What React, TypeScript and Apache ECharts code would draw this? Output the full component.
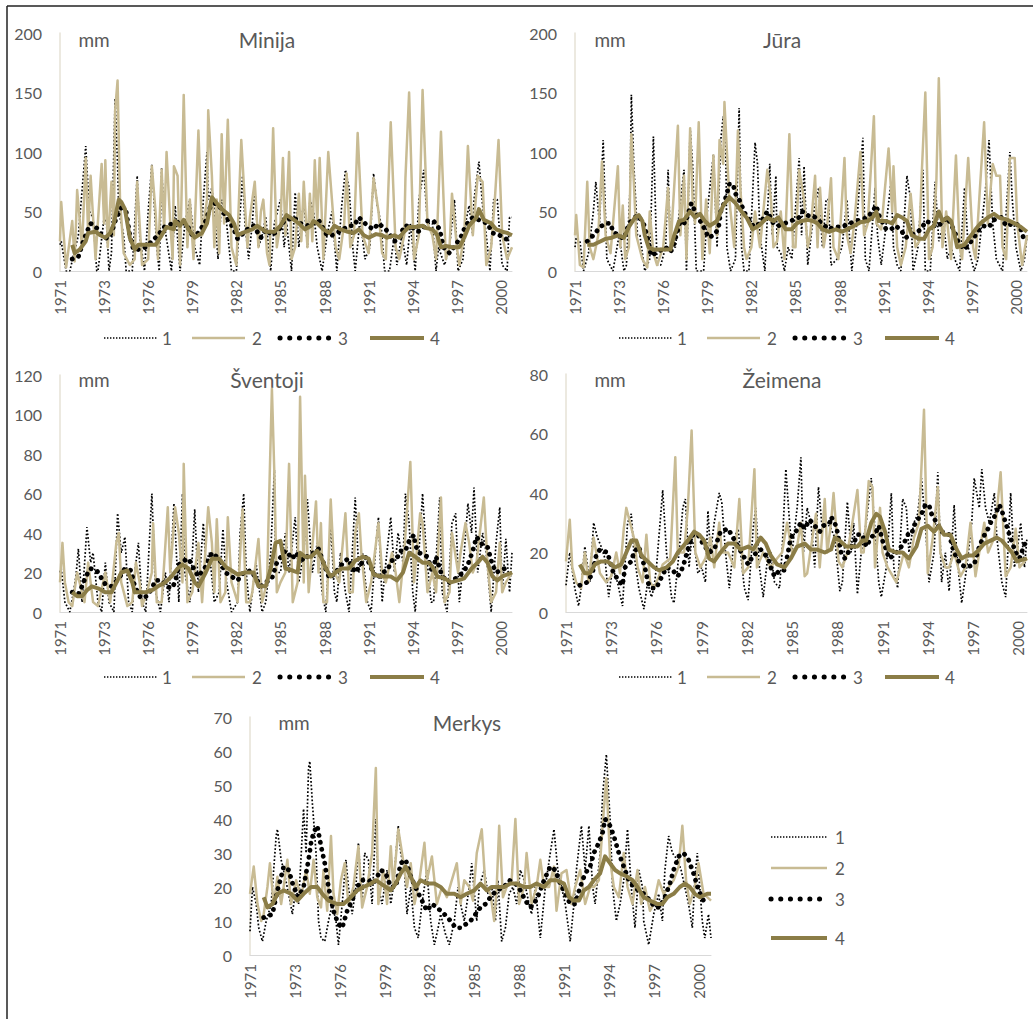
import React, { useEffect, useRef } from "react";
import * as echarts from "echarts";

// ---------- tick labels / names ----------
const YEAR_LABELS = ["1971", "1973", "1976", "1979", "1982", "1985", "1988", "1991", "1994", "1997", "2000"];
const SERIES_NAMES = ["1", "2", "3", "4"];
const RIVERS = ["Minija", "Jūra", "Šventoji", "Žeimena", "Merkys"];

// ---------- data: flat lists of [month index, mm] pairs ----------
const MINIJA_1 = [0,22, 1,25, 5,0, 8,0, 15,30, 21,105, 24,50, 27,45, 30,0, 31,0, 36,45, 38,40, 40,0, 42,15, 45,145, 47,90, 48,50, 52,30, 54,0, 59,0, 63,80, 65,30, 69,0, 72,50, 75,90, 79,20, 81,0, 83,87, 85,40, 91,0, 94,55, 98,0, 102,40, 106,60, 110,20, 114,5, 117,60, 120,100, 121,60, 124,70, 127,40, 129,10, 132,60, 135,50, 138,20, 140,0, 144,0, 149,80, 151,40, 154,10, 157,40, 159,70, 162,20, 165,30, 168,45, 172,0, 175,40, 180,60, 183,20, 185,40, 189,0, 192,66, 195,20, 199,60, 202,20, 204,60, 207,50, 210,20, 214,0, 218,30, 222,50, 226,0, 230,55, 233,85, 236,70, 239,20, 241,0, 245,45, 249,10, 253,20, 256,82, 259,55, 262,40, 265,0, 269,0, 273,30, 275,5, 279,30, 283,5, 286,40, 290,0, 293,60, 297,85, 300,40, 304,40, 307,0, 309,20, 314,5, 318,20, 322,60, 325,0, 329,10, 331,40, 334,55, 337,30, 338,60, 342,92, 345,55, 348,30, 351,0, 354,60, 357,60, 359,30, 361,5, 365,0, 367,45, 369,45];
const MINIJA_2 = [0,25, 1,58, 5,3, 10,42, 12,8, 14,68, 18,20, 21,95, 23,30, 25,80, 29,10, 34,90, 36,40, 37,93, 39,20, 42,75, 44,30, 45,135, 47,160, 49,60, 52,15, 57,5, 61,10, 63,75, 67,5, 72,10, 75,88, 78,50, 80,10, 83,85, 85,35, 87,100, 90,40, 92,10, 93,88, 96,80, 98,5, 101,148, 104,20, 106,60, 109,10, 113,118, 116,30, 120,60, 121,135, 124,80, 126,20, 128,60, 130,15, 132,115, 134,40, 137,127, 140,20, 144,5, 148,110, 153,20, 155,45, 159,75, 162,20, 164,50, 166,60, 169,15, 171,5, 174,120, 177,20, 180,40, 182,95, 184,30, 187,100, 189,10, 192,20, 195,65, 197,25, 199,75, 202,20, 204,65, 206,25, 208,93, 210,40, 212,95, 215,10, 219,100, 222,60, 225,20, 228,10, 232,40, 234,82, 237,20, 240,30, 243,116, 247,30, 252,15, 256,78, 260,50, 263,15, 266,10, 270,125, 274,20, 277,10, 281,30, 282,78, 285,150, 289,10, 293,30, 296,152, 300,40, 304,30, 307,10, 311,117, 315,10, 318,20, 320,65, 324,20, 326,5, 330,30, 333,105, 337,30, 341,80, 345,75, 348,5, 352,20, 355,60, 358,110, 361,30, 365,10, 369,20];
const MINIJA_3 = [10,10, 15,12, 19,25, 22,33, 25,40, 30,36, 34,30, 39,27, 42,32, 46,45, 50,53, 54,50, 57,30, 60,18, 64,18, 70,20, 75,25, 80,30, 86,38, 93,40, 99,42, 104,38, 108,30, 113,32, 119,42, 123,55, 127,57, 131,53, 138,42, 142,35, 145,27, 153,35, 158,38, 164,28, 168,35, 173,30, 179,35, 183,42, 191,45, 196,40, 203,38, 211,43, 218,30, 222,30, 228,33, 236,38, 240,38, 244,45, 247,42, 251,38, 256,35, 260,40, 266,35, 273,25, 277,27, 281,38, 286,38, 292,33, 296,35, 300,42, 305,42, 310,35, 313,20, 318,15, 323,22, 328,30, 331,38, 337,45, 344,42, 349,40, 353,32, 359,30, 364,27, 369,25];
const MINIJA_4 = [10,22, 12,15, 16,18, 21,25, 23,32, 29,33, 33,30, 37,28, 41,32, 44,40, 48,60, 50,58, 53,52, 57,28, 61,18, 64,22, 78,22, 83,30, 87,37, 93,35, 94,42, 98,38, 101,43, 105,35, 110,28, 116,32, 120,40, 124,62, 128,57, 132,52, 138,47, 142,40, 145,30, 149,32, 157,35, 161,38, 168,33, 175,33, 180,38, 185,47, 191,43, 195,40, 200,35, 205,38, 207,42, 210,40, 215,35, 220,32, 224,38, 229,35, 235,33, 240,32, 244,35, 248,30, 252,28, 258,31, 263,30, 267,28, 273,30, 277,28, 280,32, 285,37, 290,37, 296,38, 299,36, 304,35, 308,30, 311,20, 315,21, 320,20, 326,20, 330,28, 334,38, 340,45, 342,52, 346,43, 352,40, 356,35, 361,33, 365,32, 369,30];

const JURA_1 = [0,20, 1,28, 4,25, 7,0, 11,15, 15,50, 17,75, 20,40, 23,110, 26,10, 31,0, 36,30, 40,0, 42,5, 45,70, 46,148, 48,90, 51,30, 53,30, 57,0, 61,10, 64,113, 67,5, 70,5, 74,20, 76,85, 78,20, 82,20, 89,85, 91,0, 94,120, 96,90, 99,0, 105,0, 108,50, 113,98, 116,20, 119,110, 121,130, 123,110, 124,20, 127,0, 131,10, 134,137, 136,20, 138,0, 142,0, 147,108, 149,90, 151,30, 155,0, 159,90, 161,30, 164,80, 165,20, 168,15, 171,0, 174,20, 177,10, 183,95, 185,30, 187,88, 190,5, 195,50, 199,70, 202,20, 205,60, 207,60, 209,5, 214,10, 218,20, 222,60, 226,0, 230,40, 235,112, 237,10, 240,0, 245,70, 247,30, 250,5, 253,30, 258,75, 260,20, 263,5, 266,0, 271,80, 274,60, 276,0, 280,20, 284,85, 286,0, 290,0, 294,75, 297,25, 301,40, 304,10, 307,20, 310,10, 314,0, 318,70, 321,20, 326,0, 329,10, 335,67, 338,110, 341,40, 344,10, 349,0, 353,65, 355,100, 357,60, 360,20, 364,0, 367,10, 369,30];
const JURA_2 = [0,30, 1,47, 4,5, 7,3, 10,75, 12,20, 15,10, 19,30, 22,92, 25,30, 29,15, 35,88, 37,20, 39,55, 41,10, 44,20, 46,115, 48,75, 50,30, 55,10, 59,3, 61,50, 64,15, 67,5, 72,20, 76,70, 78,20, 84,122, 86,30, 89,80, 91,10, 94,120, 96,60, 98,40, 101,125, 104,10, 107,60, 110,15, 113,97, 116,30, 118,110, 121,90, 122,142, 126,60, 130,20, 133,118, 135,70, 138,20, 140,10, 144,20, 147,50, 151,20, 157,85, 160,60, 162,20, 165,25, 168,50, 171,10, 175,115, 178,20, 180,20, 183,85, 187,60, 190,20, 192,30, 196,80, 198,20, 200,70, 203,20, 206,40, 209,78, 211,20, 215,10, 220,95, 222,30, 225,15, 228,40, 233,100, 236,30, 239,40, 244,130, 246,40, 250,35, 256,103, 259,50, 260,88, 263,20, 266,5, 270,20, 274,65, 278,20, 281,25, 283,80, 286,150, 289,10, 292,20, 295,75, 297,162, 300,20, 303,50, 307,10, 311,97, 314,20, 316,10, 321,95, 325,20, 327,10, 330,60, 334,125, 337,40, 341,90, 344,80, 347,80, 349,20, 352,10, 355,95, 359,95, 361,40, 365,5, 369,30];
const JURA_3 = [10,25, 15,30, 19,35, 22,38, 25,40, 29,40, 31,33, 40,27, 44,40, 51,47, 56,40, 60,25, 62,13, 66,15, 74,20, 78,16, 80,20, 86,42, 90,40, 95,57, 98,50, 106,35, 109,28, 113,30, 117,35, 119,50, 122,58, 124,65, 126,73, 129,73, 131,65, 134,60, 139,48, 146,37, 151,40, 157,50, 162,40, 166,38, 176,42, 183,45, 186,50, 191,46, 195,46, 198,43, 205,37, 207,35, 212,37, 218,37, 224,40, 233,43, 239,45, 244,52, 246,55, 248,47, 254,35, 258,35, 262,38, 267,33, 270,28, 280,33, 282,35, 287,42, 295,37, 299,40, 304,45, 310,33, 313,24, 318,18, 325,27, 330,35, 333,38, 338,37, 342,43, 348,45, 352,38, 359,40, 363,38, 367,25];
const JURA_4 = [10,22, 15,22, 21,25, 25,27, 30,28, 35,30, 40,28, 44,37, 49,45, 52,47, 55,42, 57,30, 60,20, 64,18, 72,18, 78,18, 81,30, 85,42, 89,43, 94,50, 98,45, 102,48, 106,42, 110,38, 116,42, 121,55, 126,62, 131,57, 136,50, 140,45, 145,35, 150,38, 157,45, 162,42, 166,45, 172,35, 177,35, 181,40, 185,42, 190,43, 194,42, 198,40, 202,35, 207,33, 213,35, 218,33, 222,35, 228,38, 233,41, 239,42, 243,45, 246,50, 248,42, 254,42, 259,40, 263,47, 267,45, 271,42, 275,30, 281,27, 285,27, 289,35, 293,38, 297,50, 300,42, 304,45, 307,42, 310,30, 312,20, 318,22, 322,28, 327,35, 331,40, 337,45, 342,48, 346,45, 353,43, 359,40, 364,37, 369,33];

const SVENTOJI_1 = [0,20, 1,22, 4,5, 8,0, 11,10, 13,18, 15,32, 18,5, 22,43, 25,25, 27,30, 31,5, 34,0, 37,25, 40,5, 44,0, 47,50, 50,30, 53,38, 56,5, 59,0, 61,20, 64,35, 67,5, 70,0, 75,60, 78,10, 82,0, 86,20, 89,5, 93,55, 97,5, 100,60, 102,20, 106,5, 110,52, 113,10, 117,45, 119,25, 122,30, 126,5, 130,10, 133,42, 136,15, 140,0, 145,5, 147,40, 150,60, 152,20, 155,0, 160,25, 165,0, 168,5, 172,30, 175,72, 176,20, 180,20, 184,40, 187,20, 192,48, 195,15, 199,30, 202,57, 206,20, 210,35, 214,10, 217,0, 221,45, 224,10, 226,5, 229,30, 233,10, 236,0, 241,58, 244,20, 247,30, 251,5, 254,0, 258,35, 260,48, 263,5, 266,25, 270,48, 273,20, 276,40, 280,25, 282,60, 285,45, 288,10, 290,0, 296,60, 299,30, 303,5, 305,5, 310,58, 312,10, 316,0, 320,45, 323,50, 326,5, 330,30, 333,55, 336,40, 338,63, 341,20, 345,40, 348,30, 352,0, 356,35, 359,53, 361,10, 364,37, 367,10, 369,30];
const SVENTOJI_2 = [0,15, 2,35, 4,15, 7,5, 10,3, 14,20, 16,15, 20,5, 23,25, 27,5, 31,3, 37,20, 41,5, 46,35, 48,40, 50,15, 55,3, 59,5, 62,25, 65,15, 67,3, 71,10, 75,20, 76,45, 79,5, 83,5, 88,53, 90,20, 94,53, 97,40, 100,15, 101,75, 104,5, 108,10, 113,35, 116,5, 121,53, 124,35, 126,10, 128,47, 131,5, 135,10, 137,48, 140,15, 145,5, 149,52, 152,5, 155,5, 157,10, 162,37, 165,5, 169,15, 173,113, 175,70, 177,10, 180,15, 184,20, 187,75, 190,5, 194,15, 196,109, 199,15, 200,69, 203,10, 209,56, 211,20, 213,45, 215,5, 218,5, 221,57, 224,20, 228,15, 233,50, 236,10, 239,10, 241,40, 244,50, 246,30, 250,5, 254,15, 260,45, 263,20, 266,15, 271,30, 274,20, 277,5, 281,30, 286,76, 289,15, 294,50, 296,45, 300,10, 304,20, 307,10, 311,58, 314,5, 318,10, 320,40, 325,20, 327,30, 331,45, 334,35, 337,20, 340,25, 346,58, 349,25, 352,5, 356,10, 359,35, 361,10, 364,15, 369,20];
const SVENTOJI_3 = [10,10, 15,9, 18,13, 21,18, 25,22, 30,21, 34,17, 37,14, 42,13, 48,17, 53,22, 58,21, 61,13, 66,7, 71,8, 75,12, 78,16, 83,16, 87,13, 91,12, 94,15, 97,24, 101,26, 105,27, 110,21, 113,18, 119,23, 124,30, 130,27, 135,20, 145,16, 150,20, 156,21, 164,13, 168,15, 173,17, 177,25, 184,31, 190,27, 192,30, 199,26, 203,29, 207,30, 211,32, 215,25, 220,17, 225,20, 230,24, 235,27, 241,20, 250,28, 255,21, 259,17, 263,20, 267,21, 271,26, 275,27, 278,31, 282,31, 285,36, 289,39, 290,34, 293,30, 300,28, 304,20, 307,28, 312,18, 318,15, 323,17, 329,20, 333,24, 337,31, 340,38, 345,34, 349,33, 353,24, 356,20, 363,22, 365,25];
const SVENTOJI_4 = [10,10, 14,8, 18,8, 22,11, 26,13, 31,12, 37,10, 42,10, 47,16, 50,20, 55,21, 59,15, 61,10, 70,10, 75,11, 80,13, 86,15, 91,18, 96,22, 100,24, 105,22, 110,15, 113,13, 119,20, 124,27, 130,27, 135,23, 140,21, 145,19, 151,20, 158,20, 162,13, 168,13, 172,22, 176,35, 180,36, 184,22, 190,21, 194,20, 196,30, 200,28, 205,28, 210,31, 213,28, 217,22, 221,18, 225,20, 230,22, 236,22, 241,26, 247,28, 252,27, 256,19, 262,18, 270,18, 275,16, 280,20, 285,30, 290,28, 296,25, 301,25, 304,23, 308,18, 314,17, 319,15, 325,16, 330,17, 336,22, 341,25, 345,28, 349,25, 353,18, 357,16, 361,18, 369,20];

const ZEIMENA_1 = [0,9, 3,20, 7,8, 10,2, 12,8, 15,22, 19,10, 22,30, 25,25, 28,22, 31,18, 34,5, 37,15, 41,10, 45,2, 49,30, 52,33, 54,20, 58,8, 62,1, 65,10, 68,5, 70,8, 72,15, 77,41, 80,20, 84,5, 86,3, 90,20, 93,35, 95,38, 98,15, 100,25, 103,20, 105,13, 108,15, 111,10, 113,34, 115,20, 118,30, 122,40, 124,37, 127,20, 130,8, 134,25, 137,28, 139,20, 142,8, 145,4, 149,28, 151,35, 154,15, 157,5, 161,20, 163,20, 166,10, 170,8, 172,20, 175,48, 178,30, 180,20, 184,35, 187,52, 189,20, 192,35, 195,30, 198,15, 201,42, 204,28, 208,30, 211,28, 214,25, 218,7, 220,10, 224,37, 227,20, 229,30, 232,6, 235,20, 239,30, 243,45, 245,33, 249,10, 251,5, 255,15, 259,40, 261,15, 264,8, 268,38, 271,35, 273,20, 277,30, 280,33, 283,45, 286,30, 289,10, 293,20, 296,47, 299,10, 302,20, 305,7, 309,36, 311,20, 315,3, 319,15, 323,30, 325,45, 329,35, 331,48, 334,35, 337,30, 341,40, 343,25, 347,10, 350,5, 354,40, 357,15, 359,20, 362,30, 365,15, 367,25];
const ZEIMENA_2 = [0,17, 3,31, 5,15, 8,10, 12,8, 15,20, 18,10, 22,25, 27,13, 32,10, 36,12, 40,20, 43,13, 46,28, 48,35, 51,30, 54,25, 57,15, 61,10, 64,26, 67,10, 70,8, 74,12, 77,16, 83,18, 87,52, 89,20, 94,20, 97,35, 100,61, 103,20, 107,15, 111,18, 115,25, 118,15, 122,30, 124,20, 129,20, 134,15, 138,38, 141,13, 145,15, 150,48, 152,15, 157,20, 163,15, 168,18, 172,20, 176,30, 180,20, 184,22, 187,30, 190,12, 192,13, 199,33, 202,15, 206,38, 208,20, 211,30, 213,40, 217,17, 220,15, 224,20, 228,30, 232,41, 235,20, 237,20, 241,44, 244,42, 246,15, 250,35, 252,20, 256,15, 263,10, 269,20, 273,15, 277,25, 281,30, 285,68, 288,13, 292,25, 296,42, 298,20, 302,15, 305,15, 309,20, 314,12, 318,15, 322,30, 326,12, 329,20, 333,30, 336,20, 341,25, 346,47, 350,12, 354,15, 358,28, 361,15, 367,18];
const ZEIMENA_3 = [11,9, 17,10, 21,13, 24,19, 27,21, 33,20, 37,14, 41,11, 45,9, 47,15, 52,17, 54,20, 58,22, 60,19, 62,16, 64,13, 65,10, 68,8, 72,8, 74,10, 80,15, 85,14, 89,12, 93,15, 97,21, 101,26, 105,26, 109,23, 114,20, 118,21, 123,27, 129,28, 133,25, 137,22, 141,19, 145,16, 149,19, 155,21, 161,18, 163,15, 166,12, 170,14, 174,14, 179,25, 183,27, 187,30, 190,28, 194,31, 198,29, 202,27, 205,29, 210,30, 211,32, 214,30, 216,27, 219,20, 222,18, 226,21, 229,23, 232,26, 236,26, 239,22, 243,25, 247,27, 249,29, 252,24, 255,21, 257,18, 261,19, 265,21, 269,23, 272,26, 275,26, 277,29, 283,33, 286,36, 289,36, 291,33, 295,30, 299,27, 305,26, 309,20, 314,16, 319,15, 325,16, 329,22, 332,25, 336,28, 338,30, 341,32, 345,36, 347,34, 350,30, 353,26, 358,20, 361,18, 367,25];
const ZEIMENA_4 = [11,16, 15,13, 19,13, 23,16, 28,17, 33,17, 39,15, 44,16, 48,20, 52,24, 56,24, 60,19, 65,17, 70,15, 74,14, 80,15, 85,17, 89,20, 93,22, 97,24, 102,27, 106,26, 110,24, 114,18, 118,17, 123,20, 129,23, 134,23, 139,21, 145,22, 149,21, 155,25, 159,23, 163,19, 168,16, 174,15, 179,18, 184,22, 190,23, 195,21, 200,21, 206,20, 211,21, 214,25, 218,24, 223,22, 228,22, 232,22, 236,24, 239,24, 243,30, 247,33, 250,32, 254,27, 257,21, 263,20, 268,20, 273,18, 279,22, 283,28, 288,29, 293,27, 297,29, 301,26, 306,26, 311,21, 315,18, 319,19, 324,19, 329,21, 333,23, 338,24, 343,25, 347,24, 351,22, 355,20, 359,17, 367,18];

const MERKYS_1 = [0,7, 2,20, 5,15, 7,8, 10,4, 13,10, 17,15, 21,35, 22,37, 25,28, 27,25, 31,18, 34,12, 37,20, 39,15, 43,43, 45,30, 47,55, 48,57, 50,45, 53,30, 55,10, 57,5, 60,4, 63,10, 66,15, 69,10, 71,3, 74,15, 77,28, 79,20, 82,12, 85,20, 87,33, 90,15, 92,30, 95,28, 98,15, 101,40, 103,20, 106,15, 110,25, 113,15, 115,20, 119,38, 121,30, 124,25, 126,12, 129,20, 132,8, 135,5, 138,15, 142,25, 145,10, 148,3, 151,8, 153,12, 157,6, 160,3, 164,10, 167,20, 169,15, 172,10, 176,20, 178,27, 182,10, 184,20, 188,25, 191,18, 194,20, 197,10, 199,22, 202,4, 205,8, 208,18, 211,20, 214,15, 217,25, 220,22, 224,15, 226,12, 229,20, 233,5, 237,20, 241,30, 244,37, 247,25, 250,20, 253,15, 257,4, 260,15, 262,25, 266,38, 269,25, 272,38, 275,20, 277,15, 281,30, 283,47, 286,59, 289,40, 291,20, 294,10, 297,15, 300,22, 303,37, 306,20, 309,8, 312,25, 315,20, 316,10, 320,3, 324,12, 328,18, 331,10, 333,25, 336,35, 339,30, 343,28, 346,25, 349,20, 352,15, 355,8, 357,22, 359,30, 363,10, 365,5, 368,12, 370,5];
const MERKYS_2 = [0,18, 3,26, 6,15, 9,10, 11,12, 14,20, 16,27, 19,15, 22,23, 25,15, 27,20, 30,28, 33,15, 37,22, 41,17, 45,25, 48,18, 51,28, 54,17, 57,14, 59,25, 62,13, 65,35, 67,18, 70,12, 73,22, 76,27, 79,15, 83,20, 87,32, 90,14, 94,20, 98,30, 101,55, 103,15, 107,25, 110,15, 113,32, 115,20, 119,37, 122,30, 126,20, 129,27, 132,15, 136,22, 140,33, 142,22, 146,29, 150,15, 154,20, 158,17, 162,22, 166,27, 169,15, 172,22, 176,20, 179,16, 182,30, 186,37, 189,20, 193,18, 196,10, 198,20, 200,38, 203,17, 206,20, 210,22, 213,40, 216,15, 220,20, 222,30, 226,15, 230,20, 233,28, 236,20, 240,20, 244,26, 246,13, 250,24, 254,25, 258,15, 261,20, 265,25, 269,15, 273,20, 276,20, 280,22, 283,38, 286,52, 289,28, 292,20, 296,17, 300,30, 303,20, 307,15, 311,25, 314,15, 317,20, 321,13, 324,15, 328,22, 332,18, 336,20, 340,22, 344,26, 347,38, 350,22, 353,15, 357,20, 360,27, 364,18, 367,17, 370,16];
const MERKYS_3 = [11,11, 18,12, 22,19, 25,23, 27,26, 31,25, 35,20, 39,17, 43,20, 47,28, 49,33, 51,36, 54,38, 57,32, 60,27, 63,20, 67,13, 71,9, 74,8, 78,13, 82,16, 86,20, 90,22, 95,22, 99,21, 105,25, 109,24, 113,20, 117,20, 121,27, 125,28, 129,23, 134,19, 138,16, 142,13, 146,15, 150,14, 156,12, 161,10, 165,8, 169,8, 173,9, 177,10, 181,12, 185,14, 189,15, 193,17, 198,19, 204,20, 208,22, 213,21, 217,19, 221,16, 225,14, 228,15, 232,18, 236,22, 241,26, 245,25, 249,21, 253,18, 257,15, 261,15, 265,20, 269,24, 273,26, 276,30, 280,33, 283,36, 285,40, 289,38, 292,35, 296,30, 300,26, 304,22, 308,20, 312,19, 316,18, 321,16, 325,14, 329,14, 333,17, 337,21, 340,25, 344,29, 348,30, 352,28, 356,24, 360,19, 364,16, 367,15];
const MERKYS_4 = [11,17, 14,14, 18,15, 22,18, 27,19, 33,18, 38,16, 43,18, 49,20, 54,20, 58,18, 63,16, 70,15, 75,15, 81,17, 86,19, 91,20, 97,21, 101,22, 105,21, 109,20, 113,19, 117,21, 121,24, 125,26, 129,23, 133,20, 137,22, 142,21, 148,21, 153,20, 158,18, 164,18, 169,17, 174,18, 180,19, 185,21, 190,19, 194,20, 198,20, 204,20, 209,21, 214,21, 220,20, 225,20, 230,21, 236,20, 241,22, 246,22, 252,21, 256,17, 260,16, 264,16, 268,19, 272,20, 276,22, 281,24, 285,29, 289,27, 293,25, 297,24, 303,23, 307,22, 311,20, 316,17, 321,16, 327,15, 331,15, 335,17, 340,18, 345,20, 349,21, 353,20, 357,18, 361,17, 367,18, 370,18];

// axis scales per panel
const Y_MAX = [200, 200, 120, 80, 70];
const Y_STEP = [50, 50, 20, 20, 10];
const X_MAX = [369, 369, 369, 367, 370];
const PANEL_DATA = [
  [MINIJA_1, MINIJA_2, MINIJA_3, MINIJA_4],
  [JURA_1, JURA_2, JURA_3, JURA_4],
  [SVENTOJI_1, SVENTOJI_2, SVENTOJI_3, SVENTOJI_4],
  [ZEIMENA_1, ZEIMENA_2, ZEIMENA_3, ZEIMENA_4],
  [MERKYS_1, MERKYS_2, MERKYS_3, MERKYS_4],
];

// ---------- layout / style (not data) ----------
const GRIDS = [
  { left: 60, top: 33, width: 452, height: 238 },
  { left: 575, top: 33, width: 452, height: 238 },
  { left: 60, top: 375, width: 452, height: 237 },
  { left: 566, top: 374, width: 461, height: 238 },
  { left: 250, top: 717, width: 461, height: 238 },
];
const TITLE_POS = [
  { x: 267, y: 39, mmX: 94 },
  { x: 782, y: 39, mmX: 610 },
  { x: 267, y: 379, mmX: 94 },
  { x: 782, y: 379, mmX: 610 },
  { x: 467, y: 722, mmX: 294 },
];
const FONT = "Lato, 'Noto Sans', sans-serif";
const TEXT_COLOR = "#595959";
const C2 = "#c8bb93";
const C4 = "#8b7d47";

const LINE_STYLES = [
  { color: "#000000", width: 1.7, type: [1.7, 2.0] },
  { color: C2, width: 2.5, join: "round" },
  { color: "#000000", width: 4.8, type: [0.1, 7], cap: "round" },
  { color: C4, width: 4, join: "round" },
];

const toPairs = (flat: number[]) => {
  const out: number[][] = [];
  for (let i = 0; i < flat.length; i += 2) out.push([flat[i], flat[i + 1]]);
  return out;
};

const txt = (text: string, x: number, y: number, size: number, align = "center") => ({
  type: "text",
  x,
  y,
  silent: true,
  style: {
    text,
    fill: TEXT_COLOR,
    font: `${size}px ${FONT}`,
    align,
    verticalAlign: "middle",
    textAlign: align,
    textVerticalAlign: "middle",
  },
});

const legLine = (x1: number, x2: number, y: number, k: number) => {
  const s: any = LINE_STYLES[k];
  return {
    type: "line",
    silent: true,
    shape: { x1, y1: y, x2, y2: y },
    style: {
      stroke: s.color,
      lineWidth: k === 2 ? 5 : k === 0 ? 1.4 : s.width,
      lineDash: k === 2 ? [0.1, 9.6] : k === 0 ? [1.4, 1.6] : null,
      lineCap: k === 2 ? "round" : "butt",
    },
  };
};

const legendRow = (x0: number, y: number) => {
  const offs = [
    [0, 53, 63],
    [88, 141, 153],
    [176, 228, 239],
    [266, 320, 331],
  ];
  const els: any[] = [];
  offs.forEach((o, k) => {
    els.push(legLine(x0 + o[0], x0 + o[1], y, k));
    els.push(txt(SERIES_NAMES[k], x0 + o[2], y, 17));
  });
  return els;
};

const legendColumn = (x1: number, x2: number, lx: number, ys: number[]) => {
  const els: any[] = [];
  ys.forEach((y, k) => {
    els.push(legLine(x1, x2, y, k));
    els.push(txt(SERIES_NAMES[k], lx, y, 17));
  });
  return els;
};

export default function App() {
  const ref = useRef<HTMLDivElement>(null);

  useEffect(() => {
    if (!ref.current) return;
    const chart = echarts.init(ref.current, undefined, { renderer: "svg" });

    const grid = GRIDS.map((g) => ({ ...g, containLabel: false }));
    const xAxis = GRIDS.map((_, i) => ({
      type: "value",
      gridIndex: i,
      min: 0,
      max: X_MAX[i],
      interval: 36,
      axisLine: { show: true, lineStyle: { color: "#d9d9d9", width: 1 } },
      axisTick: { show: false },
      splitLine: { show: false },
      axisLabel: {
        rotate: 90,
        margin: 9,
        color: TEXT_COLOR,
        fontSize: 15,
        fontFamily: FONT,
        showMaxLabel: false,
        formatter: (v: number) => (v % 36 === 0 && YEAR_LABELS[v / 36] ? YEAR_LABELS[v / 36] : ""),
      },
    }));
    const yAxis = GRIDS.map((_, i) => ({
      type: "value",
      gridIndex: i,
      min: 0,
      max: Y_MAX[i],
      interval: Y_STEP[i],
      axisLine: { show: true, lineStyle: { color: "#e6e2d6", width: 1.5 } },
      axisTick: { show: false },
      splitLine: { show: false },
      axisLabel: { margin: 18, color: TEXT_COLOR, fontSize: 16, fontFamily: FONT },
    }));

    const series: any[] = [];
    PANEL_DATA.forEach((lists, i) => {
      lists.forEach((flat, k) => {
        series.push({
          type: "line",
          name: SERIES_NAMES[k],
          xAxisIndex: i,
          yAxisIndex: i,
          data: toPairs(flat),
          symbol: "none",
          showSymbol: false,
          silent: true,
          clip: true,
          z: 2 + k,
          lineStyle: LINE_STYLES[k],
        });
      });
    });

    const graphic: any[] = [
      { type: "line", silent: true, shape: { x1: 7, y1: 6, x2: 7, y2: 1019 }, style: { stroke: "#222", lineWidth: 1.5 } },
      { type: "line", silent: true, shape: { x1: 7, y1: 6, x2: 1033, y2: 6 }, style: { stroke: "#222", lineWidth: 1.5 } },
    ];
    TITLE_POS.forEach((p, i) => {
      graphic.push(txt(RIVERS[i], p.x, p.y, 21));
      graphic.push(txt("mm", p.mmX, p.y, 19));
    });
    graphic.push(...legendRow(104, 338));
    graphic.push(...legendRow(619, 338));
    graphic.push(...legendRow(104, 677));
    graphic.push(...legendRow(619, 677));
    graphic.push(...legendColumn(771, 827, 840, [837, 868, 899, 938]));

    chart.setOption({
      animation: false,
      backgroundColor: "#ffffff",
      grid,
      xAxis,
      yAxis,
      series,
      graphic,
    });

    return () => chart.dispose();
  }, []);

  return (
    <div
      ref={ref}
      style={{ position: "absolute", left: 0, top: 0, width: 1033, height: 1019 }}
    />
  );
}
